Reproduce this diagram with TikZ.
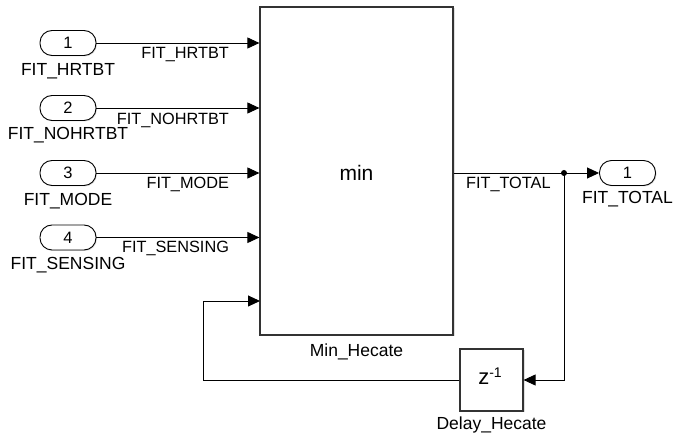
\documentclass[tikz,border=0pt]{standalone}
\usepackage{fontspec}
\setmainfont{Liberation Sans}
\usetikzlibrary{arrows.meta,shadows}

\begin{document}
\begin{tikzpicture}[x=1pt,y=-1pt,line join=miter,>={Triangle[length=12pt,width=11pt]},
  port/.style={draw,line width=0.9pt,rounded corners=12pt,minimum width=56pt,minimum height=25pt,inner sep=0pt,
    fill=white,drop shadow={shadow xshift=1pt,shadow yshift=-1pt,opacity=0.25},font=\fontsize{16.5}{16.5}\selectfont},
  blk/.style={draw=black!80,line width=1.2pt,fill=white,inner sep=0pt,
    drop shadow={shadow xshift=1.5pt,shadow yshift=-1.5pt,opacity=0.25}},
  lab/.style={anchor=base,inner sep=0pt,font=\fontsize{17.5}{18}\selectfont},
  sig/.style={inner sep=0pt,font=\fontsize{16.3}{16.3}\selectfont},
  wire/.style={line width=0.9pt}]
\useasboundingbox (0,0) rectangle (675,435);
\node[blk,minimum width=193pt,minimum height=328pt] (minblk) at (356.5,171) {};
\node[font=\fontsize{21}{21}\selectfont] (mintxt) at (356.5,173) {min};
\node[lab] (minlab) at ([yshift=-21pt]minblk.south) {Min\_Hecate};
\node[blk,minimum width=63pt,minimum height=62pt] (delay) at (491.5,380) {};
\node[font=\fontsize{22}{22}\selectfont] (ztxt) at (490,376) {z\raisebox{7pt}{\fontsize{14}{14}\selectfont -1}};
\node[lab] (delaylab) at ([yshift=-18pt]delay.south) {Delay\_Hecate};
\node[port] (in1) at (68,43) {1};
\node[port] (in2) at (68,108) {2};
\node[port] (in3) at (68,173) {3};
\node[port] (in4) at (68,237.5) {4};
\node[lab] (lin1) at ([yshift=-20pt]in1.south) {FIT\_HRTBT};
\node[lab] (lin2) at ([yshift=-19pt]in2.south) {FIT\_NOHRTBT};
\node[lab] (lin3) at ([yshift=-19.5pt]in3.south) {FIT\_MODE};
\node[lab] (lin4) at ([yshift=-19pt]in4.south) {FIT\_SENSING};
\node[port] (out1) at (627.5,173) {1};
\node[lab] (lout1) at ([yshift=-18pt]out1.south) {FIT\_TOTAL};
\coordinate (split) at (564,173);
\coordinate (fbin) at (260,301);
\coordinate (fbleft) at (203,380);
\coordinate (fbright) at (564,380);
\draw[wire,->] (in1.east) -- (minblk.west |- in1.east) node[sig,pos=1,anchor=base east,xshift=-30pt,yshift=-16pt] {FIT\_HRTBT};
\draw[wire,->] (in2.east) -- (minblk.west |- in2.east) node[sig,pos=1,anchor=base east,xshift=-30pt,yshift=-17pt] {FIT\_NOHRTBT};
\draw[wire,->] (in3.east) -- (minblk.west |- in3.east) node[sig,pos=1,anchor=base east,xshift=-30pt,yshift=-16pt] {FIT\_MODE};
\draw[wire,->] (in4.east) -- (minblk.west |- in4.east) node[sig,pos=1,anchor=base east,xshift=-30pt,yshift=-15pt] {FIT\_SENSING};
\draw[wire] (minblk.east |- split) -- (split) node[sig,pos=0,anchor=base west,xshift=12pt,yshift=-16pt] {FIT\_TOTAL};
\draw[wire,->] (split) -- (out1.west);
\draw[wire,->] (split) -- (fbright) -- (delay.east);
\draw[wire,->] (delay.west) -- (fbleft) |- (fbin);
\fill (split) circle (3pt);
\end{tikzpicture}
\end{document}
